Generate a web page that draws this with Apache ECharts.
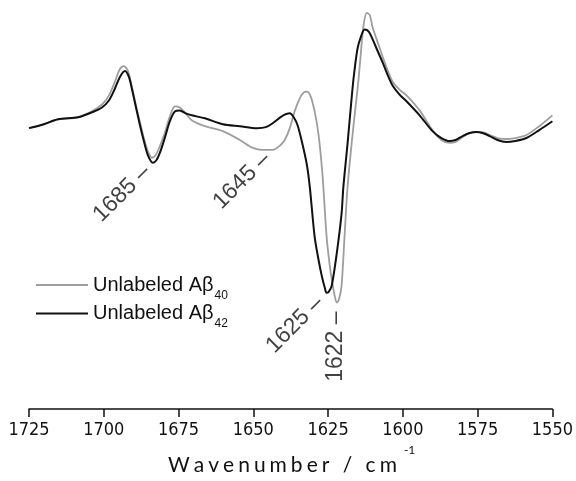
<!DOCTYPE html>
<html>
<head>
<meta charset="utf-8">
<script src="https://cdn.jsdelivr.net/npm/echarts@6/dist/echarts.min.js"></script>
<style>
  html, body { margin: 0; padding: 0; background: #fff; }
  #chart { width: 576px; height: 481px; }
</style>
</head>
<body>
<div id="chart"></div>
<script>
// wavenumber (cm-1) and 2nd-derivative intensity (arb. units)
const wn40 = [1725, 1720.0, 1715.3, 1708.6, 1704.0, 1700.6, 1698.3, 1696.3, 1694.6, 1693.3, 1691.9, 1690.6,
  1689.3, 1687.9, 1686.6, 1685.3, 1683.9, 1682.6, 1681.2, 1679.6, 1677.9, 1676.2, 1674.6, 1672.6, 1670.6,
  1666.2, 1660.2, 1654.5, 1650.2, 1646.8, 1643.5, 1641.2, 1639.5, 1637.8, 1636.2, 1634.5, 1633.2, 1632.1,
  1630.8, 1629.5, 1628.5, 1627.8, 1626.8, 1625.5, 1624.5, 1623.8, 1622.8, 1622.1, 1621.4, 1620.5, 1619.5,
  1618.5, 1617.1, 1615.8, 1614.8, 1613.8, 1613.1, 1612.1, 1611.1, 1610.1, 1608.4, 1606.8, 1605.1, 1603.4,
  1601.1, 1598.7, 1594.4, 1590.1, 1587.1, 1584.4, 1582.4, 1580.0, 1577.7, 1575.4, 1573.4, 1571.0, 1568.4,
  1565.4, 1562.4, 1558.7, 1554.4, 1550];
const ab40 = [0.00, 0.04, 0.09, 0.11, 0.17, 0.24, 0.33, 0.47, 0.60, 0.63, 0.58, 0.42,
  0.24, 0.06, -0.10, -0.23, -0.30, -0.27, -0.18, -0.05, 0.12, 0.22, 0.21, 0.15, 0.08,
  0.02, -0.03, -0.12, -0.20, -0.22, -0.22, -0.18, -0.12, 0.00, 0.17, 0.30, 0.36, 0.37,
  0.32, 0.17, 0.00, -0.17, -0.50, -1.10, -1.38, -1.53, -1.70, -1.77, -1.74, -1.60, -1.10,
  -0.60, -0.15, 0.22, 0.50, 0.85, 1.05, 1.17, 1.15, 1.02, 0.87, 0.73, 0.59, 0.47,
  0.39, 0.33, 0.18, -0.02, -0.12, -0.15, -0.14, -0.09, -0.05, -0.04, -0.04, -0.07, -0.10,
  -0.11, -0.10, -0.07, 0.02, 0.13];

const wn42 = [1725, 1720.0, 1715.3, 1708.6, 1704.0, 1700.6, 1698.3, 1696.3, 1694.6, 1692.9, 1691.6, 1690.6,
  1689.3, 1687.9, 1686.6, 1685.3, 1683.6, 1682.3, 1681.0, 1679.6, 1677.9, 1676.2, 1674.6, 1672.6, 1670.6,
  1666.2, 1660.2, 1654.5, 1648.8, 1645.8, 1643.5, 1640.5, 1637.8, 1636.5, 1635.2, 1633.5, 1632.1, 1631.1,
  1629.5, 1628.1, 1627.1, 1626.1, 1625.5, 1624.8, 1623.8, 1622.1, 1620.5, 1619.9, 1618.5, 1617.5, 1616.5,
  1615.2, 1614.1, 1612.8, 1611.4, 1610.1, 1608.4, 1606.8, 1605.1, 1603.4, 1601.1, 1598.7, 1594.4, 1590.1,
  1587.1, 1584.4, 1582.4, 1580.0, 1577.7, 1575.4, 1573.4, 1571.0, 1568.4, 1565.4, 1562.4, 1558.7, 1554.4, 1550];
const ab42 = [0.00, 0.04, 0.09, 0.11, 0.16, 0.21, 0.28, 0.40, 0.52, 0.58, 0.52, 0.40,
  0.22, 0.03, -0.13, -0.27, -0.35, -0.32, -0.23, -0.10, 0.07, 0.17, 0.18, 0.15, 0.13,
  0.10, 0.04, 0.02, 0.00, 0.01, 0.05, 0.12, 0.15, 0.11, 0.03, -0.17, -0.37, -0.60,
  -1.10, -1.35, -1.50, -1.62, -1.67, -1.66, -1.60, -1.27, -0.87, -0.60, -0.16, 0.18, 0.50,
  0.80, 0.92, 1.00, 0.98, 0.90, 0.78, 0.67, 0.54, 0.43, 0.34, 0.27, 0.13, -0.03,
  -0.10, -0.13, -0.12, -0.08, -0.05, -0.04, -0.05, -0.08, -0.12, -0.14, -0.13, -0.10, -0.02, 0.07];

const seriesNames = ['Unlabeled Aβ40', 'Unlabeled Aβ42'];
const xTicks = [1725, 1700, 1675, 1650, 1625, 1600, 1575, 1550];
const axisName = 'Wavenumber / cm';

// band annotations: label, anchor position (data units), rotation
const annText = ['1685', '1645', '1625', '1622'];
const annX = [1685.6, 1645.5, 1627.8, 1622.4];
const annY = [-0.41, -0.28, -1.74, -1.86];
const annRot = [45, 45, 45, 90];

const pairs = (xs, ys) => xs.map((x, i) => [x, ys[i]]);

const chart = echarts.init(document.getElementById('chart'));

chart.setOption({
  animation: false,
  backgroundColor: '#fff',
  grid: { left: 29, right: 23, top: 0, bottom: 66, containLabel: false },
  xAxis: {
    type: 'value',
    inverse: true,
    min: xTicks[xTicks.length - 1],
    max: xTicks[0],
    interval: 25,
    splitLine: { show: false },
    axisLine: { onZero: false, lineStyle: { color: '#111', width: 1.5 } },
    axisTick: { inside: false, length: 8, lineStyle: { color: '#111', width: 1.5 } },
    axisLabel: {
      color: '#111', fontSize: 18, margin: 12,
      fontFamily: '"Liberation Sans Narrow", "DejaVu Sans Condensed", "Liberation Sans", sans-serif',
      formatter: v => String(v),
      showMinLabel: true, showMaxLabel: true
    },
    name: axisName.split('').map(c => '{t|' + c + '}').join('') + '{sup|-1}',
    nameLocation: 'middle',
    nameGap: 32,
    nameTextStyle: {
      color: '#111',
      rich: {
        t: { fontFamily: 'Lato, "Liberation Sans", sans-serif', fontSize: 21, lineHeight: 43, padding: [0, 2, 0, 2], color: '#111' },
        sup: { fontFamily: 'Lato, "Liberation Sans", sans-serif', fontSize: 12, lineHeight: 12, verticalAlign: 'top', padding: [0, 0, 0, 5], color: '#111' }
      }
    }
  },
  yAxis: {
    type: 'value',
    show: false,
    min: -2.85,
    max: 1.30
  },
  legend: {
    data: seriesNames,
    orient: 'vertical',
    left: 31,
    top: 270,
    itemGap: 2,
    itemWidth: 52,
    itemHeight: 2,
    icon: 'rect',
    formatter: name => '{a|' + name.replace(/\d+$/, '') + '}{sub|' + name.match(/\d+$/)[0] + '}',
    textStyle: {
      rich: {
        a: { fontFamily: '"Liberation Sans", Arial, sans-serif', fontSize: 20, lineHeight: 33, color: '#111' },
        sub: { fontFamily: '"Liberation Sans", Arial, sans-serif', fontSize: 12, lineHeight: 12, verticalAlign: 'bottom', color: '#111', padding: [0, 0, 0, 1] }
      }
    }
  },
  series: [
    {
      name: seriesNames[0],
      type: 'line',
      data: pairs(wn40, ab40),
      smooth: 0.3,
      symbol: 'none',
      color: '#9e9e9e',
      lineStyle: { color: '#9e9e9e', width: 1.8 }
    },
    {
      name: seriesNames[1],
      type: 'line',
      data: pairs(wn42, ab42),
      smooth: 0.3,
      symbol: 'none',
      color: '#111',
      lineStyle: { color: '#111', width: 2 }
    },
    {
      name: 'bands',
      type: 'scatter',
      symbolSize: 0,
      silent: true,
      data: annX.map((x, i) => ({
        value: [x, annY[i]],
        label: { rotate: annRot[i] }
      })),
      label: {
        show: true,
        position: 'left',
        distance: 0,
        formatter: p => annText[p.dataIndex] + ' –',
        color: '#111',
        fontSize: 23,
        fontFamily: '"Liberation Sans", Arial, sans-serif'
      }
    }
  ]
});
</script>
</body>
</html>
